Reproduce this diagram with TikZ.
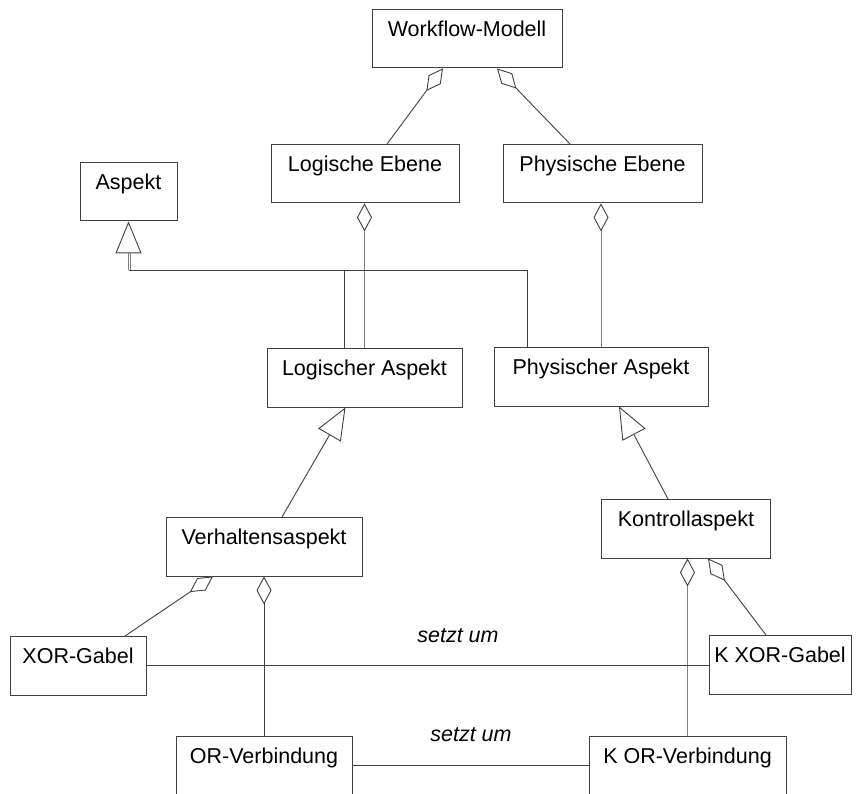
\documentclass[tikz,border=0pt]{standalone}
\usepackage{fontspec}
\setmainfont{Liberation Sans}
\usetikzlibrary{arrows.meta}
\tikzset{
  klasse/.style={draw=black!75,line width=0.9pt,anchor=north,inner xsep=0pt,inner ysep=0pt,
    text height=27.5pt,text depth=31pt,font=\fontsize{21.5}{26}\selectfont},
  linie/.style={black!75,line width=0.9pt},
  hell/.style={black!50,line width=0.9pt},
  agg/.style={-{Diamond[open,length=28pt,width=15pt,color=black!75]}},
  gen/.style={-{Triangle[open,length=32pt,width=26pt,color=black!75]}},
  rolle/.style={anchor=base,font=\fontsize{21.5}{26}\selectfont\itshape}
}
\begin{document}
\begin{tikzpicture}[x=1pt,y=-1pt]
\useasboundingbox (0,0) rectangle (856,794);
%
\node[klasse,minimum width=190pt](wm) at (467,9){Workflow-Modell};
\node[klasse,minimum width=188pt](le) at (365,144){Logische Ebene};
\node[klasse,minimum width=199pt](pe) at (602.5,144){Physische Ebene};
\node[klasse,minimum width=97pt](asp) at (128.5,162){Aspekt};
\node[klasse,minimum width=195pt](la) at (364.5,348){Logischer Aspekt};
\node[klasse,minimum width=214pt](pa) at (601,347){Physischer Aspekt};
\node[klasse,minimum width=196pt](va) at (264,517){Verhaltensaspekt};
\node[klasse,minimum width=169pt](ka) at (686,499){Kontrollaspekt};
\node[klasse,minimum width=136pt](xg) at (78,636){XOR-Gabel};
\node[klasse,minimum width=142pt](kxg) at (780,635){K XOR-Gabel};
\node[klasse,minimum width=176pt](orv) at (264,736){OR-Verbindung};
\node[klasse,minimum width=197pt](korv) at (687.5,736){K OR-Verbindung};
%
% Aggregationen
\draw[linie,agg]([xshift=22pt]le.north)--([xshift=-24pt]wm.south);
\draw[linie,agg]([xshift=-32.5pt]pe.north)--([xshift=30pt]wm.south);
\draw[hell,agg](la.north)--(la.north|-le.south);
\draw[hell,agg](pa.north)--(pa.north|-pe.south);
\draw[linie,agg]([xshift=47pt]xg.north)--([xshift=-51pt]va.south);
\draw[linie,agg](orv.north)--(va.south);
\draw[hell,agg](korv.north)--(korv.north|-ka.south);
\draw[linie,agg]([xshift=-14pt]kxg.north)--([xshift=22pt]ka.south);
%
% Generalisierungen
\coordinate(jn) at (asp.south|-0,270);
\draw[linie]([xshift=-20.5pt]la.north)|-(jn);
\draw[linie]([xshift=-74pt]pa.north)|-(jn);
\draw[hell,gen](jn)--(asp.south);
\draw[hell]([xshift=2pt]jn)--++(0,-17);
\draw[linie,gen]([xshift=18pt]va.north)--([xshift=-19pt]la.south);
\draw[linie,gen]([xshift=-18pt]ka.north)--([xshift=18pt]pa.south);
%
% setzt um
\draw[linie](xg.east)--(xg.east-|kxg.west);
\node[rolle](su1) at (458,642){setzt um};
\draw[linie](orv.east)--(korv.west);
\node[rolle](su2) at (471,741){setzt um};
\end{tikzpicture}
\end{document}
